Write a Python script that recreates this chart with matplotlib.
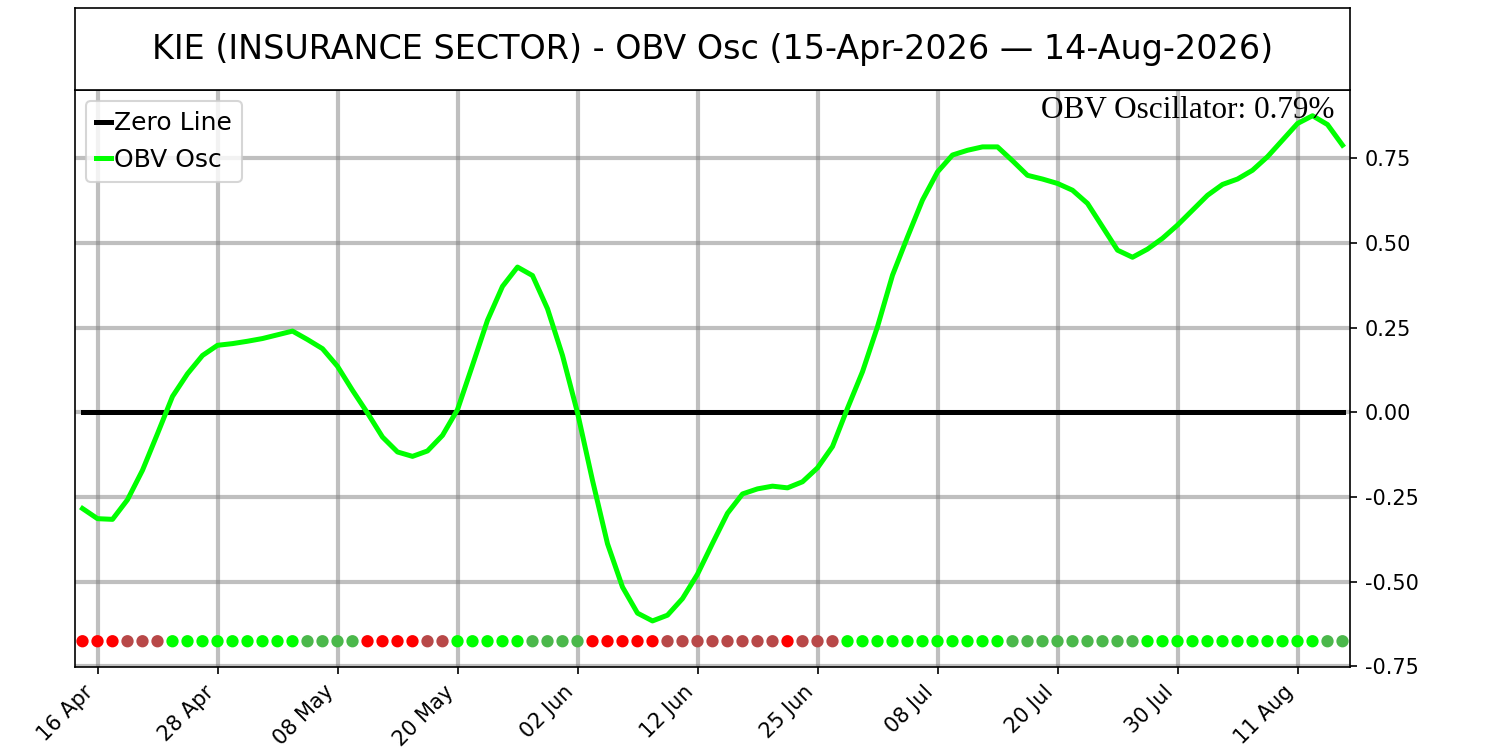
import numpy as np
import pandas as pd
import matplotlib
matplotlib.use("Agg")
import matplotlib.pyplot as plt

plt.rcParams["axes.unicode_minus"] = False

# trading days 15 Apr - 14 Aug 2026 (US market holidays removed)
holidays = ["2026-05-25", "2026-06-19", "2026-07-03"]
dates = pd.bdate_range("2026-04-15", "2026-08-14", freq="C", holidays=holidays)

obv_osc = [
    -0.284, -0.314, -0.316, -0.258, -0.171, -0.063, 0.047, 0.114, 0.168, 0.198,
    0.203, 0.210, 0.218, 0.229, 0.240, 0.215, 0.188, 0.136, 0.065, -0.002,
    -0.073, -0.117, -0.130, -0.114, -0.068, 0.008, 0.139, 0.272, 0.372, 0.429,
    0.404, 0.306, 0.168, -0.001, -0.201, -0.388, -0.516, -0.593, -0.616, -0.599,
    -0.550, -0.478, -0.387, -0.298, -0.241, -0.226, -0.218, -0.223, -0.205, -0.164,
    -0.101, 0.012, 0.120, 0.253, 0.405, 0.518, 0.627, 0.710, 0.760, 0.774,
    0.784, 0.784, 0.743, 0.700, 0.689, 0.676, 0.656, 0.617, 0.548, 0.479,
    0.458, 0.482, 0.514, 0.553, 0.597, 0.641, 0.673, 0.689, 0.715, 0.755,
    0.804, 0.853, 0.876, 0.850, 0.789,
]

# daily signal: R strong bear, B weak bear, L strong bull, D weak bull
signal = list(
    "RRRBBB" + "L" * 9 + "DDDD" + "RRRR" + "BB" + "LLLLL" + "DDDD"
    + "RRRRR" + "B" * 8 + "R" + "BBB" + "L" * 11 + "D" * 9 + "L" * 12 + "DD"
)
signal_colors = {"R": "#ff0000", "B": "#b84848", "L": "#00ff00", "D": "#4bb84b"}

title = "KIE (INSURANCE SECTOR) - OBV Osc (15-Apr-2026 \u2014 14-Aug-2026)"

x = np.arange(len(dates))

fig = plt.figure(figsize=(10, 5), dpi=150)
ax = fig.add_axes([0.05, 0.1107, 0.85, 0.7693])
tax = fig.add_axes([0.05, 0.88, 0.85, 0.1093])
tax.set_xticks([])
tax.set_yticks([])
tax.text(0.5, 0.5, title, ha="center", va="center", fontsize=16, transform=tax.transAxes)

ax.plot(x, np.zeros(len(x)), color="black", lw=2.4, label="Zero Line")
ax.plot(x, obv_osc, color="#00ff00", lw=2.4, label="OBV Osc")

dot_y = min(obv_osc) - 0.06
ax.scatter(x, np.full(len(x), dot_y), c=[signal_colors[s] for s in signal], s=24, zorder=3)

ticks = x[1::8]
ax.set_xticks(ticks)
ax.set_xticklabels([dates[i].strftime("%d %b") for i in ticks], rotation=45, ha="right", fontsize=10)
ax.set_yticks([-0.75, -0.5, -0.25, 0.0, 0.25, 0.5, 0.75])
ax.yaxis.tick_right()
ax.tick_params(axis="y", labelsize=10)
ax.grid(True, color="gray", alpha=0.5, lw=2)
ax.set_xlim(-0.5, len(x) - 0.5)
ax.set_ylim(-0.752, 0.952)

ax.text(0.988, 0.99, f"OBV Oscillator: {obv_osc[-1]:.2f}%", transform=ax.transAxes,
        ha="right", va="top", fontsize=15, family="Liberation Serif")

ax.legend(loc="upper left", fontsize=12, handlelength=0.6, handletextpad=0.1,
          borderaxespad=0.45)

fig.savefig("out.png", dpi=150)
